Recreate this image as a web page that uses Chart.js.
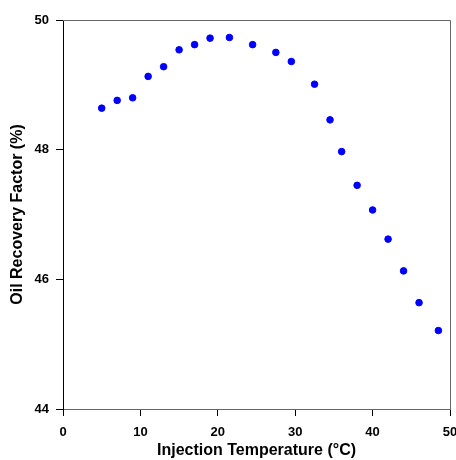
<!DOCTYPE html>
<html>
<head>
<meta charset="utf-8">
<script src="https://cdn.jsdelivr.net/npm/chart.js@4"></script>
<style>
  html, body { margin: 0; padding: 0; background: #fff; }
  #wrap { width: 456px; height: 460px; }
</style>
</head>
<body>
<div id="wrap"><canvas id="chart"></canvas></div>
<script>
// temperature (°C) and oil recovery factor (%)
const temps = [5, 7, 9, 11, 13, 15, 17, 19, 21.5, 24.5, 27.5, 29.5, 32.5, 34.5, 36, 38, 40, 42, 44, 46, 48.5];
const recovery = [48.64, 48.76, 48.80, 49.13, 49.28, 49.54, 49.62, 49.72, 49.73, 49.62, 49.50, 49.36, 49.01, 48.46, 47.97, 47.45, 47.07, 46.62, 46.13, 45.64, 45.21];

const xTitle = 'Injection Temperature (°C)';
const yTitle = 'Oil Recovery Factor (%)';

const points = temps.map((t, i) => ({ x: t, y: recovery[i] }));

// рамка сверху и справа
const frame = {
    id: 'frame',
    afterDraw(chart) {
        const a = chart.chartArea;
        const c = chart.ctx;
        c.save();
        c.strokeStyle = '#666';
        c.lineWidth = 1;
        c.beginPath();
        c.moveTo(a.left, a.top + 0.5);
        c.lineTo(a.right + 0.5, a.top + 0.5);
        c.lineTo(a.right + 0.5, a.bottom);
        c.stroke();
        c.restore();
    }
};

const ctx = document.getElementById('chart').getContext('2d');
new Chart(ctx, {
    type: 'scatter',
    data: {
        datasets: [{
            data: points,
            backgroundColor: '#0000ff',
            borderColor: '#0000ff',
            borderWidth: 1,
            pointRadius: 3.3,
            pointHoverRadius: 3.3
        }]
    },
    options: {
        responsive: true,
        maintainAspectRatio: false,
        animation: false,
        plugins: { legend: { display: false }, tooltip: { enabled: false } },
        layout: { padding: { left: 0, right: 6, top: 20, bottom: 0 } },
        scales: {
            x: {
                type: 'linear',
                min: 0,
                max: 50,
                afterFit(scale) { scale.height = 51; scale.paddingRight = 0; scale.paddingLeft = 0; },
                border: { display: true, color: '#666', width: 1 },
                grid: { drawOnChartArea: false, drawTicks: true, tickLength: 7, color: '#000' },
                ticks: {
                    stepSize: 10,
                    padding: 9,
                    color: '#000',
                    font: { family: 'Liberation Sans', size: 13, weight: 'bold' }
                },
                title: {
                    display: true,
                    text: xTitle,
                    color: '#000',
                    padding: { top: 0, bottom: 0 },
                    font: { family: 'Liberation Sans', size: 16, weight: 'bold' }
                }
            },
            y: {
                type: 'linear',
                min: 44,
                max: 50,
                afterFit(scale) { scale.width = 63; },
                border: { display: true, color: '#000', width: 1 },
                grid: { drawOnChartArea: false, drawTicks: true, tickLength: 7, color: '#000' },
                ticks: {
                    stepSize: 2,
                    padding: 7,
                    color: '#000',
                    font: { family: 'Liberation Sans', size: 13, weight: 'bold' }
                },
                title: {
                    display: true,
                    text: yTitle,
                    color: '#000',
                    padding: { top: 8, bottom: 0 },
                    font: { family: 'Liberation Sans', size: 16, weight: 'bold' }
                }
            }
        }
    },
    plugins: [frame]
});
</script>
</body>
</html>
